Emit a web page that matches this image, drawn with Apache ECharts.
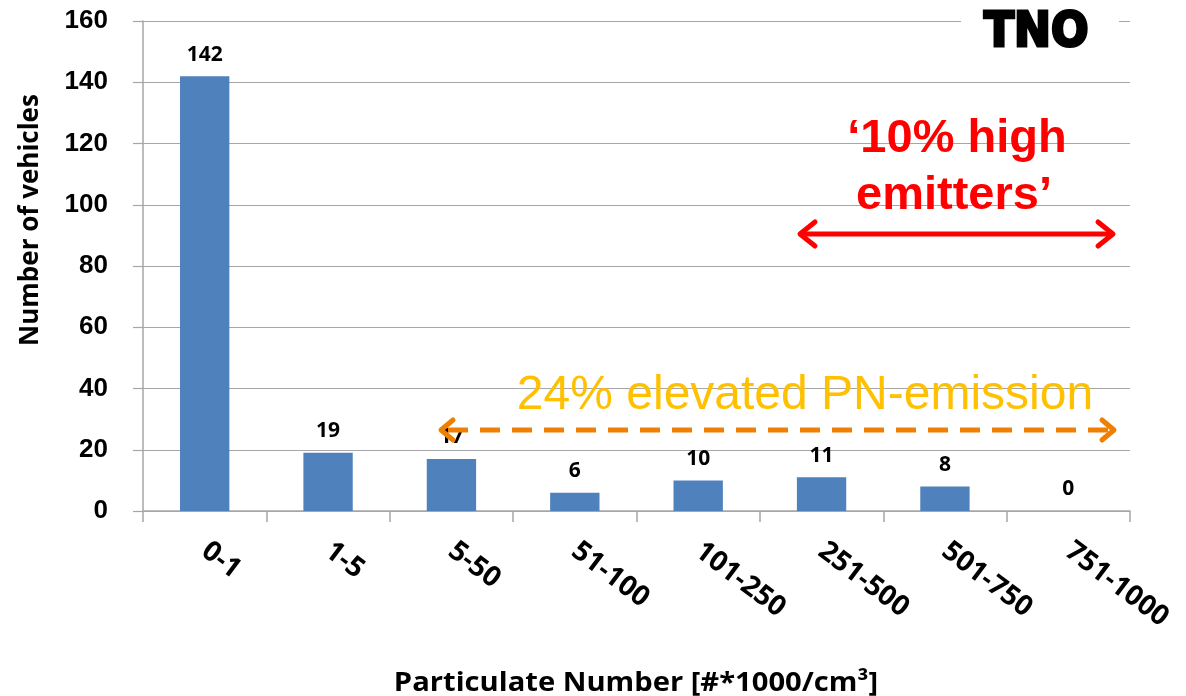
<!DOCTYPE html>
<html>
<head>
<meta charset="utf-8">
<script src="https://cdn.jsdelivr.net/npm/echarts@6/dist/echarts.min.js"></script>
<style>
  html, body { margin: 0; padding: 0; background: #fff; }
  #chart { width: 1186px; height: 696px; }
</style>
</head>
<body>
<div id="chart"></div>
<script>
// PN concentration bins and vehicle counts per bin
const categories = ['0-1', '1-5', '5-50', '51-100', '101-250', '251-500', '501-750', '751-1000'];
const vehicles = [142, 19, 17, 6, 10, 11, 8, 0];
const yTicks = { min: 0, max: 160, interval: 20 };

const axisGray = '#A6A6A6';
const red = '#FF0000';
const orangeLine = '#EE7F00';
const orangeText = '#FFC000';

const chart = echarts.init(document.getElementById('chart'), null, { renderer: 'canvas' });

// chevron-style arrow heads as polylines
function chevron(tipX, tipY, dir, len, spread, color, width) {
  return {
    type: 'polyline',
    shape: { points: [[tipX - dir * len, tipY - spread], [tipX, tipY], [tipX - dir * len, tipY + spread]] },
    style: { stroke: color, lineWidth: width, fill: null, lineCap: 'round', lineJoin: 'round' },
    z: 10
  };
}

const option = {
  animation: false,
  backgroundColor: '#fff',
  grid: { left: 143, right: 56, top: 21, bottom: 185, containLabel: false },
  xAxis: {
    type: 'category',
    data: categories,
    boundaryGap: true,
    axisLine: { show: true, lineStyle: { color: axisGray, width: 1.5 } },
    axisTick: { show: true, length: 11, lineStyle: { color: axisGray, width: 1.5 } },
    axisLabel: {
      interval: 0,
      rotate: -37,
      margin: 37,
      color: '#000',
      fontFamily: 'Open Sans',
      fontWeight: 'bold',
      fontSize: 28
    },
    splitLine: { show: false }
  },
  yAxis: {
    type: 'value',
    min: yTicks.min,
    max: yTicks.max,
    interval: yTicks.interval,
    axisLine: { show: true, lineStyle: { color: axisGray, width: 1.5 } },
    axisTick: { show: true, length: 10, lineStyle: { color: axisGray, width: 1.2 } },
    axisLabel: {
      margin: 35,
      color: '#000',
      fontFamily: 'Liberation Sans',
      fontWeight: 'bold',
      fontSize: 26
    },
    splitLine: { show: true, lineStyle: { color: axisGray, width: 1.2 } }
  },
  series: [{
    type: 'bar',
    data: vehicles,
    barWidth: '40%',
    itemStyle: { color: '#4F81BD' },
    label: {
      show: true,
      position: 'top',
      distance: 11,
      color: '#000',
      fontFamily: 'Open Sans',
      fontWeight: 'bold',
      fontSize: 21
    }
  }],
  graphic: [
    // logo box
    { type: 'rect', shape: { x: 961, y: 0, width: 158, height: 50 }, style: { fill: '#fff' }, z: 5 },
    {
      type: 'text', x: 984, y: 10, scaleX: 0.92, z: 6,
      style: { text: 'TNO', fontFamily: 'DejaVu Sans', fontWeight: 'bold', fontSize: 48,
               fill: '#000', stroke: '#000', lineWidth: 3, lineJoin: 'round', textVerticalAlign: 'top' }
    },
    // axis titles
    {
      type: 'text', x: 31, y: 220, rotation: Math.PI / 2, z: 6,
      style: { text: 'Number of vehicles', fontFamily: 'Open Sans', fontWeight: 'bold', fontSize: 26,
               fill: '#000', textAlign: 'center', textVerticalAlign: 'middle' }
    },
    {
      type: 'text', x: 636, y: 683, scaleX: 1.08, z: 6,
      style: { text: 'Particulate Number [#*1000/cm³]', fontFamily: 'Open Sans', fontWeight: 'bold', fontSize: 27,
               fill: '#000', textAlign: 'center', textVerticalAlign: 'middle' }
    },
    // high emitters annotation
    {
      type: 'text', x: 957, y: 139, z: 6,
      style: { text: '‘10% high', fontFamily: 'Liberation Sans', fontWeight: 'bold', fontSize: 47,
               fill: red, textAlign: 'center', textVerticalAlign: 'middle' }
    },
    {
      type: 'text', x: 954, y: 196, z: 6,
      style: { text: 'emitters’', fontFamily: 'Liberation Sans', fontWeight: 'bold', fontSize: 47,
               fill: red, textAlign: 'center', textVerticalAlign: 'middle' }
    },
    { type: 'line', shape: { x1: 802, y1: 234, x2: 1111, y2: 234 },
      style: { stroke: red, lineWidth: 5, lineCap: 'round' }, z: 10 },
    chevron(800, 234, -1, 15, 12, red, 5),
    chevron(1113, 234, 1, 15, 12, red, 5),
    // elevated emission annotation
    {
      type: 'text', x: 805, y: 396, z: 6,
      style: { text: '24% elevated PN-emission', fontFamily: 'Liberation Sans', fontSize: 48,
               fill: orangeText, textAlign: 'center', textVerticalAlign: 'middle' }
    },
    { type: 'line', shape: { x1: 448, y1: 430, x2: 1108, y2: 430 },
      style: { stroke: orangeLine, lineWidth: 5, lineDash: [20, 12] }, z: 10 },
    chevron(441, 430, -1, 12, 10, orangeLine, 5),
    chevron(1114, 430, 1, 12, 10, orangeLine, 5)
  ]
};

chart.setOption(option);
</script>
</body>
</html>
